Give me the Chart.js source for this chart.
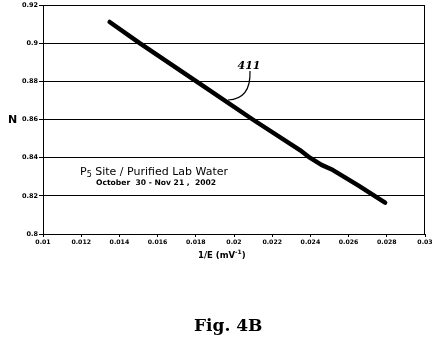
<!DOCTYPE html>
<html>
<head>
<meta charset="utf-8">
<script src="https://cdn.jsdelivr.net/npm/chart.js@4"></script>
<style>
  html, body { margin: 0; padding: 0; background: #fff; }
  #wrap { position: relative; width: 438px; height: 346px; }
  canvas { display: block; }
</style>
</head>
<body>
<div id="wrap"><canvas id="c" width="438" height="346"></canvas></div>
<script>
// ---- data ----
const xValues = [0.01349, 0.01506, 0.01803, 0.02098, 0.02345, 0.02397, 0.02458, 0.02518, 0.02650, 0.02791];
const yValues = [0.9111, 0.9000, 0.8800, 0.8600, 0.8440, 0.8400, 0.8362, 0.8335, 0.8255, 0.8164];
const yTicks = [0.8, 0.82, 0.84, 0.86, 0.88, 0.9, 0.92];
const xTicks = [0.01, 0.012, 0.014, 0.016, 0.018, 0.02, 0.022, 0.024, 0.026, 0.028, 0.03];
const seriesLabel = "411";
const boxLine1 = ["P", "5", " Site / Purified Lab Water"];
const boxLine2 = "October  30 - Nov 21 ,  2002";
const yTitle = "N";
const xTitle = ["1/E (mV", "-1", ")"];
const figCaption = "Fig. 4B";

const points = xValues.map((x, i) => ({ x: x, y: yValues[i] }));

const textPlugin = {
  id: 'texts',
  afterDraw(chart) {
    const ctx = chart.ctx;
    const a = chart.chartArea;
    ctx.save();
    // right border
    ctx.strokeStyle = '#000';
    ctx.lineWidth = 1;
    ctx.beginPath();
    ctx.moveTo(Math.round(a.right) - 0.5, a.top);
    ctx.lineTo(Math.round(a.right) - 0.5, a.bottom);
    ctx.stroke();

    ctx.fillStyle = '#000';
    ctx.textBaseline = 'alphabetic';
    ctx.textAlign = 'left';

    // Y title
    ctx.font = 'bold 11px "DejaVu Sans"';
    ctx.fillText(yTitle, 8, 123);

    // X title with superscript
    let x = 198;
    const by = 258;
    ctx.font = 'bold 8.5px "DejaVu Sans"';
    ctx.fillText(xTitle[0], x, by);
    x += ctx.measureText(xTitle[0]).width;
    ctx.font = 'bold 6px "DejaVu Sans"';
    ctx.fillText(xTitle[1], x, by - 4);
    x += ctx.measureText(xTitle[1]).width;
    ctx.font = 'bold 8.5px "DejaVu Sans"';
    ctx.fillText(xTitle[2], x, by);

    // Text box line 1 with subscript
    x = 80;
    ctx.font = '11px "DejaVu Sans"';
    ctx.fillText(boxLine1[0], x, 175);
    x += ctx.measureText(boxLine1[0]).width;
    ctx.font = '8px "DejaVu Sans"';
    ctx.fillText(boxLine1[1], x, 177);
    x += ctx.measureText(boxLine1[1]).width;
    ctx.font = '11px "DejaVu Sans"';
    ctx.fillText(boxLine1[2], x, 175);

    // line 2
    ctx.font = 'bold 7.6px "DejaVu Sans"';
    ctx.fillText(boxLine2, 96, 185);

    // annotation 411
    ctx.font = 'italic bold 11px "DejaVu Serif"';
    ctx.textAlign = 'center';
    ctx.fillText(seriesLabel, 249, 69);
    ctx.lineWidth = 1.2;
    ctx.beginPath();
    ctx.moveTo(250, 71);
    ctx.quadraticCurveTo(251, 99, 228, 100);
    ctx.stroke();

    // caption
    ctx.font = 'bold 17px "DejaVu Serif"';
    ctx.textAlign = 'left';
    ctx.fillText(figCaption, 194, 331);
    ctx.restore();
  }
};

new Chart(document.getElementById('c'), {
  type: 'scatter',
  data: {
    datasets: [{
      label: seriesLabel,
      data: points,
      showLine: true,
      borderColor: '#000',
      backgroundColor: '#000',
      borderWidth: 4.5,
      pointRadius: 0,
      borderCapStyle: 'round',
      borderJoinStyle: 'round',
      tension: 0
    }]
  },
  options: {
    responsive: false,
    animation: false,
    devicePixelRatio: 1,
    layout: { padding: { top: 5, right: 13, bottom: 0, left: 0 } },
    plugins: { legend: { display: false }, tooltip: { enabled: false } },
    scales: {
      x: {
        type: 'linear',
        min: 0.01, max: 0.03,
        afterFit: s => { s.height = 112; },
        afterBuildTicks: s => { s.ticks = xTicks.map(v => ({ value: v })); },
        ticks: {
          color: '#000',
          font: { family: '"DejaVu Sans"', size: 6.2, weight: 'bold' },
          padding: 2,
          maxRotation: 0,
          autoSkip: false,
          callback: v => String(parseFloat(v.toFixed(3)))
        },
        grid: { drawOnChartArea: false, drawTicks: true, tickLength: 3, color: '#000' },
        border: { display: true, color: '#000', width: 1 }
      },
      y: {
        type: 'linear',
        min: 0.8, max: 0.92,
        afterFit: s => { s.width = 43; },
        afterBuildTicks: s => { s.ticks = yTicks.map(v => ({ value: v })); },
        ticks: {
          color: '#000',
          font: { family: '"DejaVu Sans"', size: 6.5, weight: 'bold' },
          padding: 1,
          autoSkip: false,
          callback: v => String(parseFloat(v.toFixed(2)))
        },
        grid: { color: '#000', lineWidth: 1, tickLength: 4 },
        border: { display: true, color: '#000', width: 1 }
      }
    }
  },
  plugins: [textPlugin]
});
</script>
</body>
</html>
